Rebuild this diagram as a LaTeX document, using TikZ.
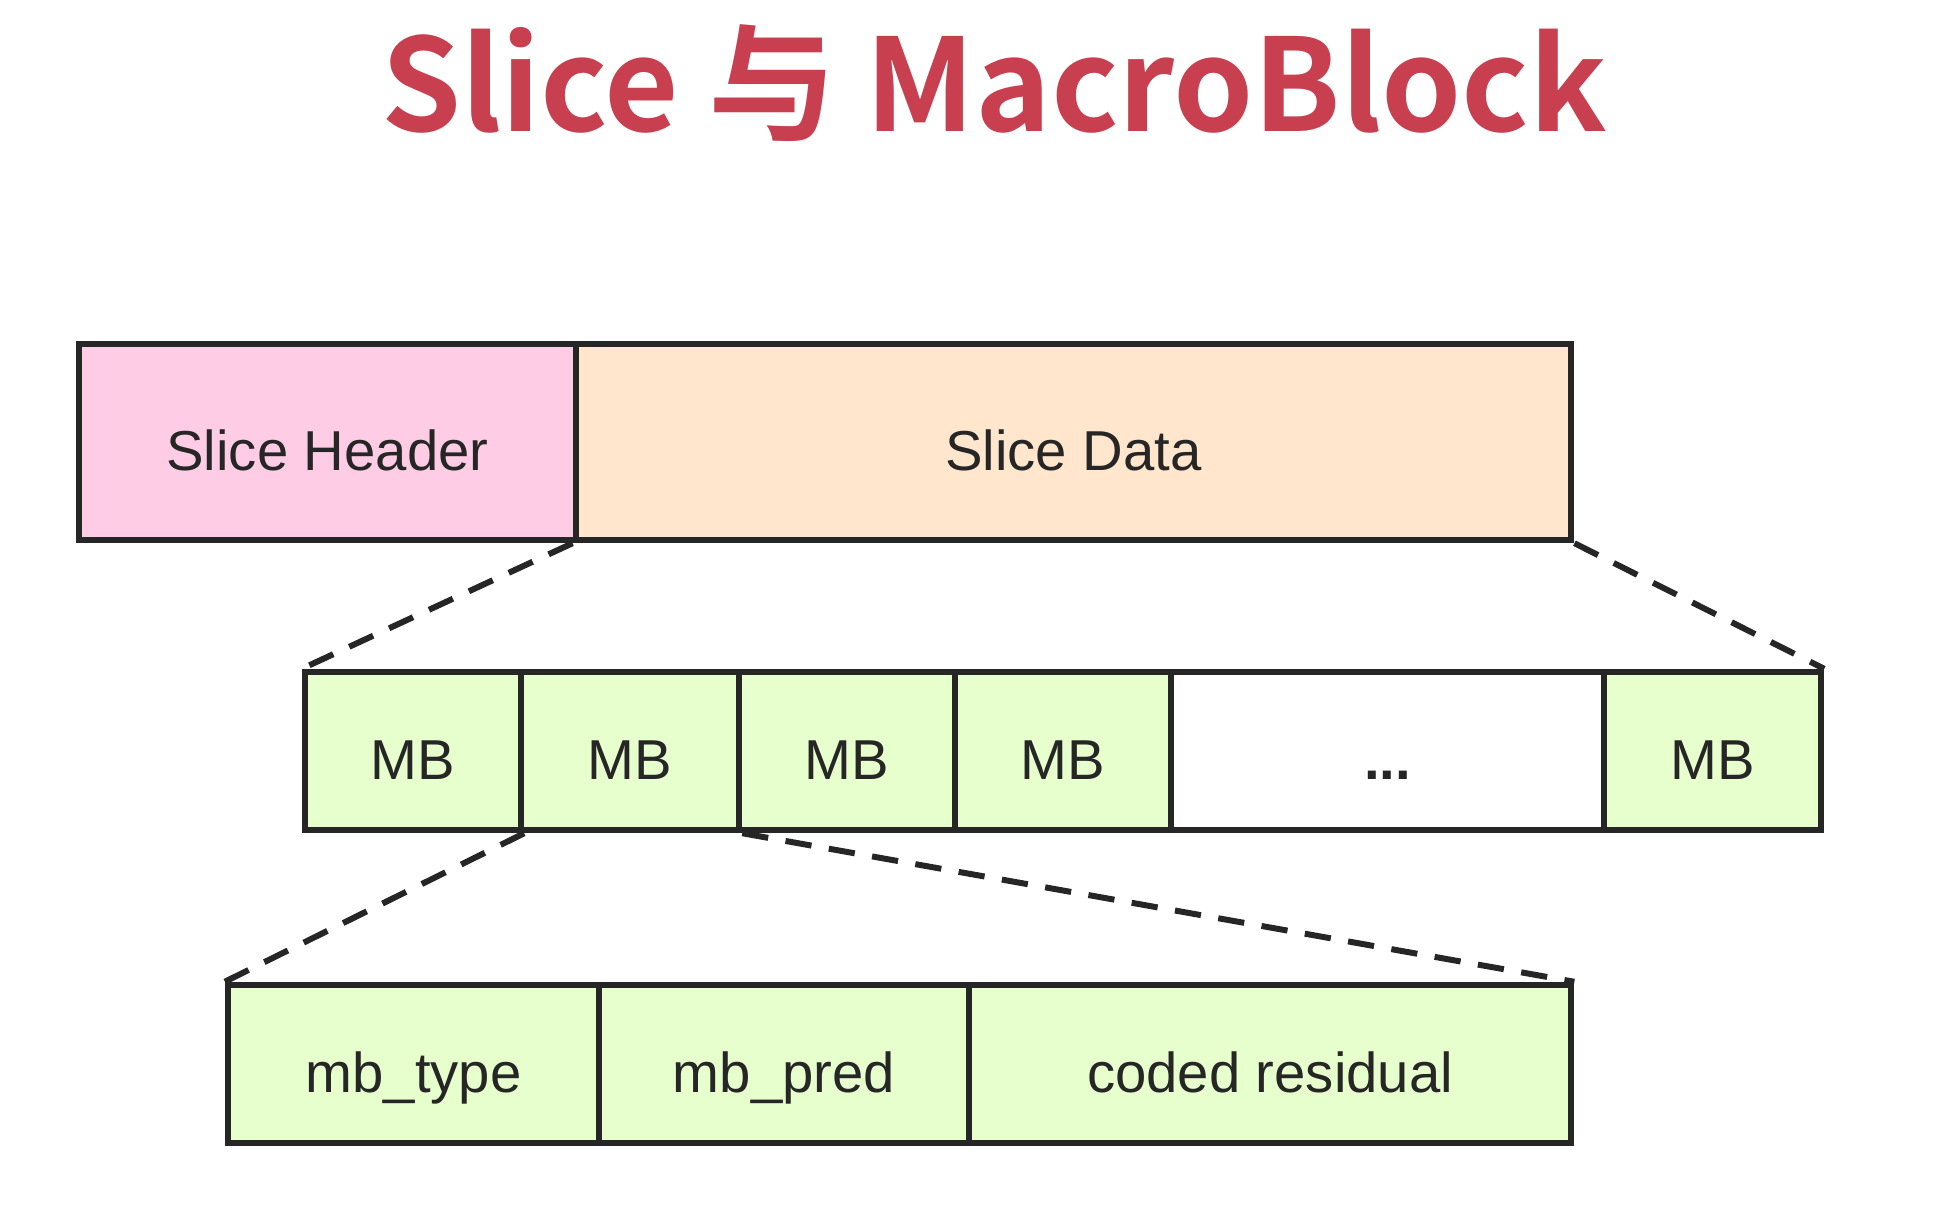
\documentclass[tikz,border=0pt]{standalone}
\usepackage{fontspec}
\setmainfont{Liberation Sans}
\newfontfamily\cjkbold{Noto Sans CJK SC Bold}
\definecolor{titlered}{RGB}{200,64,80}
\definecolor{hdrpink}{HTML}{FFCCE6}
\definecolor{datapeach}{HTML}{FFE6CC}
\definecolor{mbgreen}{HTML}{E6FFCC}
\definecolor{edge}{HTML}{262626}
\begin{document}
\begin{tikzpicture}[x=.01cm,y=-.01cm,line width=1.8pt,
  cell/.style={draw=edge,rectangle,inner sep=0pt,text=edge,
    text height=16.4pt,text depth=0pt,font=\fontsize{16}{19}\selectfont},
  zoomline/.style={draw=edge,dash pattern=on 7.5pt off 5pt,line width=1.7pt}]
\useasboundingbox (0,0) rectangle (1960,1214);
\node[anchor=base,text=titlered,font=\cjkbold\fontsize{36.5}{44}\selectfont] (title) at (994,131) {Slice 与 MacroBlock};
\node[cell,fill=hdrpink,minimum width=4.97cm,minimum height=1.96cm] (hdr) at (327.5,442) {Slice Header};
\node[cell,fill=datapeach,minimum width=9.95cm,minimum height=1.96cm] (data) at (1073.5,442) {Slice Data};
\node[cell,fill=mbgreen,minimum width=2.16cm,minimum height=1.58cm] (mb1) at (413,751) {MB};
\node[cell,fill=mbgreen,minimum width=2.18cm,minimum height=1.58cm] (mb2) at (630,751) {MB};
\node[cell,fill=mbgreen,minimum width=2.16cm,minimum height=1.58cm] (mb3) at (847,751) {MB};
\node[cell,fill=mbgreen,minimum width=2.16cm,minimum height=1.58cm] (mb4) at (1063,751) {MB};
\node[cell,fill=white,minimum width=4.33cm,minimum height=1.58cm] (dots) at (1387.5,751) {\textbf{...}};
\node[cell,fill=mbgreen,minimum width=2.17cm,minimum height=1.58cm] (mbn) at (1712.5,751) {MB};
\node[cell,fill=mbgreen,minimum width=3.71cm,minimum height=1.58cm] (ty) at (413.5,1064) {mb\_type};
\node[cell,fill=mbgreen,minimum width=3.70cm,minimum height=1.58cm] (pred) at (784,1064) {mb\_pred};
\node[cell,fill=mbgreen,minimum width=6.02cm,minimum height=1.58cm] (res) at (1270,1064) {coded residual};
\draw[zoomline] (data.south west) -- (mb1.north west);
\draw[zoomline] (data.south east) -- (mbn.north east);
\draw[zoomline] (mb1.south east) -- (ty.north west);
\draw[zoomline] (mb2.south east) -- (res.north east);
\end{tikzpicture}
\end{document}
